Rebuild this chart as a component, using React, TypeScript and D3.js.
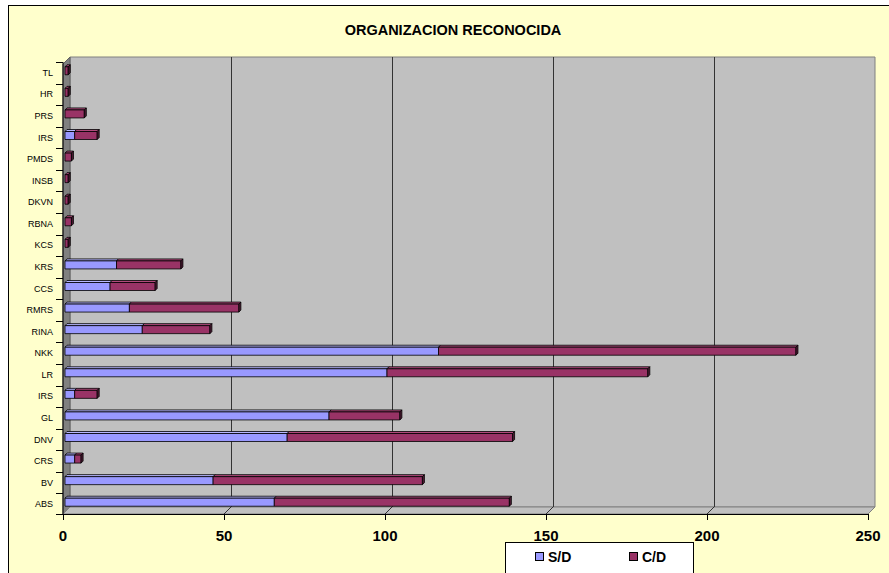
import React from 'react';
import * as d3 from 'd3';

// categories from the bottom of the chart to the top
const categories = ['ABS', 'BV', 'CRS', 'DNV', 'GL', 'IRS', 'LR', 'NKK', 'RINA', 'RMRS', 'CCS', 'KRS', 'KCS', 'RBNA', 'DKVN', 'INSB', 'PMDS', 'IRS', 'PRS', 'HR', 'TL'];
const sdValues = [65, 46, 3, 69, 82, 3, 100, 116, 24, 20, 14, 16, 0, 0, 0, 0, 0, 3, 0, 0, 0];
const cdValues = [73, 65, 2, 70, 22, 7, 81, 111, 21, 34, 14, 20, 1, 2, 1, 1, 2, 7, 6, 1, 1];
const xTicks = [0, 50, 100, 150, 200, 250];
const seriesNames = ['S/D', 'C/D'];

const W = 889;
const H = 573;
const DEPTH = 7;
const font = 'Arial, "Liberation Sans", sans-serif';

const colors = {
  'S/D': { front: '#9999FF', top: '#B8B8FF', end: '#5C5C99' },
  'C/D': { front: '#993366', top: '#B04A7C', end: '#4D1A33' },
};

export default function App() {
  const x = d3.scaleLinear().domain([0, 250]).range([63, 868]);
  const y = d3.scaleBand<string>()
    .domain(categories.map((_, i) => String(i)))
    .range([515, 62]);

  const rows = categories.map((c, i) => ({ key: String(i), 'S/D': sdValues[i], 'C/D': cdValues[i] }));
  const stacked = d3.stack<any>().keys(seriesNames)(rows);

  const left = x(0);
  const right = x(250);
  const bottom = 514;
  const top = 64;
  const bh = y.bandwidth();

  const poly = (pts: number[][]) => pts.map(p => p.join(',')).join(' ');

  return (
    <svg width={W} height={H} style={{ position: 'absolute', left: 0, top: 0 }}>
      <rect x={8.5} y={5.5} width={900} height={600} fill="#FFFFCC" stroke="#000" />
      <text x={453} y={35} textAnchor="middle" fontFamily={font} fontWeight="bold" fontSize={14.5}>
        ORGANIZACION RECONOCIDA
      </text>

      {/* walls */}
      <polygon points={poly([[left + DEPTH, top - DEPTH], [right + DEPTH, top - DEPTH], [right + DEPTH, bottom - DEPTH], [left + DEPTH, bottom - DEPTH]])}
        fill="#C0C0C0" stroke="#808080" />
      <polygon points={poly([[left, top], [left + DEPTH, top - DEPTH], [left + DEPTH, bottom - DEPTH], [left, bottom]])}
        fill="#808080" stroke="#606060" />
      <polygon points={poly([[left, bottom], [left + DEPTH, bottom - DEPTH], [right + DEPTH, bottom - DEPTH], [right, bottom]])}
        fill="#C0C0C0" stroke="#808080" />

      {/* gridlines */}
      {xTicks.slice(1, -1).map(t => (
        <g key={t}>
          <line x1={x(t) + DEPTH + 0.5} x2={x(t) + DEPTH + 0.5} y1={top - DEPTH} y2={bottom - DEPTH} stroke="#333" />
          <line x1={x(t)} x2={x(t) + DEPTH} y1={bottom} y2={bottom - DEPTH} stroke="#333" />
        </g>
      ))}

      {/* bars */}
      {stacked.map(s => s.map((d, i) => {
        const v0 = d[0];
        const v1 = d[1];
        if (v1 - v0 <= 0) return null;
        const c = colors[s.key as 'S/D' | 'C/D'];
        const cy = (y(String(i)) as number) + bh / 2 - 2;
        const y0 = cy - 4;
        const y1 = cy + 4;
        const xa = x(v0) + 2;
        const xb = x(v1) + 2;
        const isEnd = s.key === 'C/D' || cdValues[i] === 0;
        return (
          <g key={s.key + i} stroke="#000" strokeWidth={0.8} strokeLinejoin="round">
            <polygon points={poly([[xa, y0], [xb, y0], [xb + 2, y0 - 2], [xa + 2, y0 - 2]])} fill={c.top} />
            <rect x={xa} y={y0} width={xb - xa} height={y1 - y0} fill={c.front} />
            {isEnd && <polygon points={poly([[xb, y0], [xb + 2, y0 - 2], [xb + 2, y1 - 2], [xb, y1]])} fill={c.end} />}
          </g>
        );
      }))}

      {/* axes */}
      <line x1={left} x2={left} y1={62} y2={bottom} stroke="#000" />
      <line x1={left} x2={right} y1={bottom + 0.5} y2={bottom + 0.5} stroke="#000" />
      {d3.range(categories.length + 1).map(i => {
        const yy = Math.round(Math.min(bottom, 515 - i * bh)) + 0.5;
        return <line key={i} x1={left - 7} x2={left} y1={yy} y2={yy} stroke="#000" />;
      })}
      {categories.map((c, i) => (
        <text key={i} x={53} y={(y(String(i)) as number) + bh / 2 + 3} textAnchor="end" fontFamily={font} fontSize={9}>
          {c}
        </text>
      ))}
      {xTicks.map(t => (
        <g key={t}>
          <line x1={Math.round(x(t)) + 0.5} x2={Math.round(x(t)) + 0.5} y1={bottom} y2={bottom + 6} stroke="#000" />
          <text x={x(t)} y={541} textAnchor="middle" fontFamily={font} fontWeight="bold" fontSize={15}>
            {t}
          </text>
        </g>
      ))}

      {/* legend */}
      <rect x={505.5} y={542.5} width={188} height={40} fill="#fff" stroke="#000" />
      {seriesNames.map((n, i) => (
        <g key={n} transform={`translate(${535 + i * 94},552)`}>
          <rect x={0.5} y={0.5} width={8} height={8} fill={colors[n as 'S/D' | 'C/D'].front} stroke="#000" />
          <text x={13} y={9.5} fontFamily={font} fontWeight="bold" fontSize={14}>{n}</text>
        </g>
      ))}
    </svg>
  );
}
